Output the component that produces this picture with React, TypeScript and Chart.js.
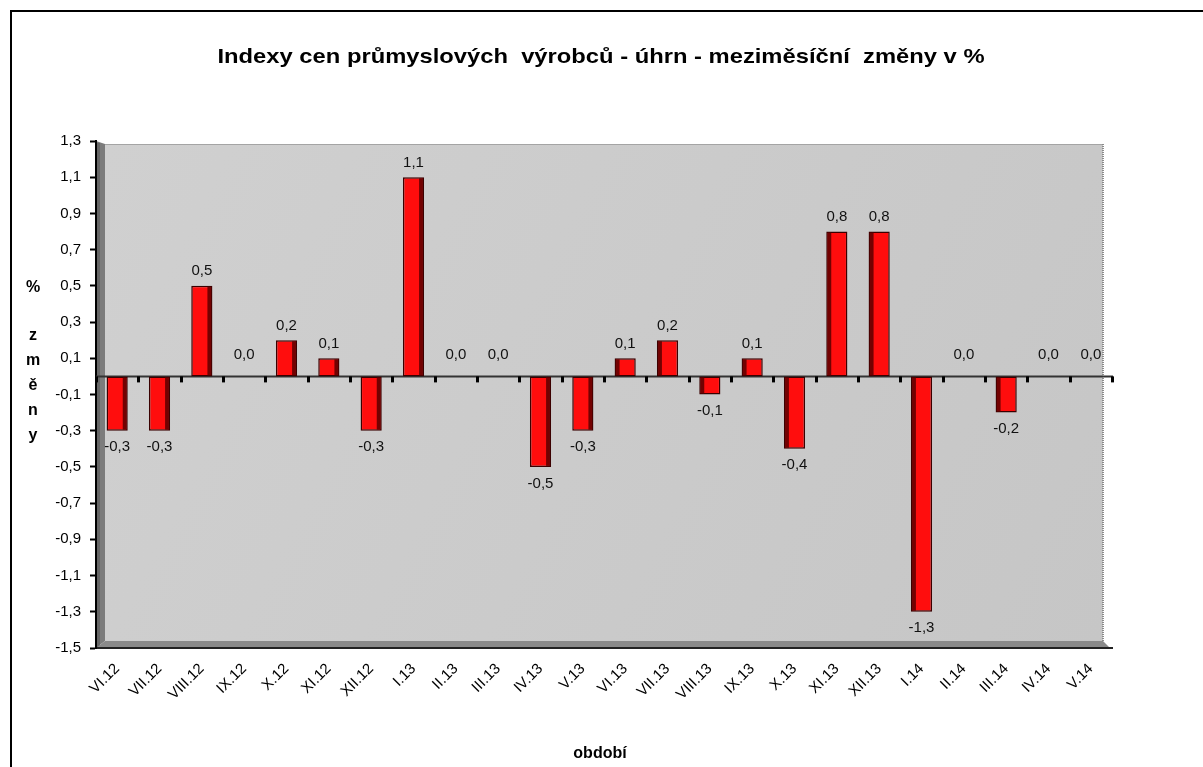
import React, { useEffect, useRef } from "react";
import { Chart, registerables } from "chart.js";

Chart.register(...registerables);

const W = 1203;
const H = 767;

const TITLE = "Indexy cen průmyslových  výrobců - úhrn - meziměsíční  změny v %";
const Y_TITLE_TOP = "%";
const Y_TITLE_LETTERS = ["z", "m", "ě", "n", "y"];
const X_TITLE = "období";

const categories = [
  "VI.12", "VII.12", "VIII.12", "IX.12", "X.12", "XI.12", "XII.12",
  "I.13", "II.13", "III.13", "IV.13", "V.13", "VI.13", "VII.13", "VIII.13",
  "IX.13", "X.13", "XI.13", "XII.13", "I.14", "II.14", "III.14", "IV.14", "V.14",
];

const values = [
  -0.3, -0.3, 0.5, 0.0, 0.2, 0.1, -0.3, 1.1, 0.0, 0.0, -0.5, -0.3,
  0.1, 0.2, -0.1, 0.1, -0.4, 0.8, 0.8, -1.3, 0.0, -0.2, 0.0, 0.0,
];

const Y_MIN = -1.5;
const Y_MAX = 1.3;
const Y_STEP = 0.2;

const FONT = '"Liberation Sans", Arial, sans-serif';
const fmt = (v: number) => v.toFixed(1).replace(".", ",");

const decorPlugin = {
  id: "decor",
  beforeDraw(chart: any) {
    const { ctx, chartArea: a } = chart;
    ctx.save();
    ctx.fillStyle = "#ffffff";
    ctx.fillRect(0, 0, W, H);
    // outer frame
    ctx.strokeStyle = "#000";
    ctx.lineWidth = 2;
    ctx.strokeRect(11, 11, W + 20, H + 20);

    // title
    ctx.font = "bold 21px " + FONT;
    const tw = ctx.measureText(TITLE).width;
    const sx = 767 / tw;
    ctx.save();
    ctx.translate(601, 57);
    ctx.scale(sx, 1);
    ctx.fillStyle = "#000";
    ctx.textAlign = "center";
    ctx.textBaseline = "middle";
    ctx.fillText(TITLE, 0, 0);
    ctx.restore();

    // y title
    ctx.font = "bold 16px " + FONT;
    ctx.fillStyle = "#000";
    ctx.textAlign = "center";
    ctx.textBaseline = "middle";
    ctx.fillText(Y_TITLE_TOP, 33, 288);
    Y_TITLE_LETTERS.forEach((l, i) => ctx.fillText(l, 33, 336 + i * 25));

    // x title
    ctx.font = "bold 16px " + FONT;
    ctx.fillText(X_TITLE, 600, 754);

    // plot walls
    const wl = a.left + 9;
    const wt = a.top + 3;
    const wr = a.right - 9;
    const wb = a.bottom - 7;
    const g = ctx.createLinearGradient(wl, wt, wr, wb);
    g.addColorStop(0, "#d0d0d0");
    g.addColorStop(1, "#c6c6c6");
    ctx.fillStyle = g;
    ctx.fillRect(wl, wt, wr - wl, wb - wt);
    // left side wall
    ctx.fillStyle = "#7c7c7c";
    ctx.beginPath();
    ctx.moveTo(a.left, a.top);
    ctx.lineTo(wl, wt);
    ctx.lineTo(wl, wb);
    ctx.lineTo(a.left, a.bottom);
    ctx.closePath();
    ctx.fill();
    ctx.fillStyle = "#666";
    ctx.fillRect(a.left, a.top + 2, 4, a.bottom - a.top - 2);
    // floor
    ctx.fillStyle = "#8a8a8a";
    ctx.beginPath();
    ctx.moveTo(a.left, a.bottom);
    ctx.lineTo(wl, wb);
    ctx.lineTo(wr, wb);
    ctx.lineTo(a.right - 2, a.bottom);
    ctx.closePath();
    ctx.fill();
    // top edge
    ctx.strokeStyle = "#a4a4a4";
    ctx.lineWidth = 1;
    ctx.beginPath();
    ctx.moveTo(wl, wt + 0.5);
    ctx.lineTo(wr, wt + 0.5);
    ctx.stroke();
    // right dotted edge
    ctx.strokeStyle = "#8a8a8a";
    ctx.setLineDash([1, 1]);
    ctx.lineWidth = 2;
    ctx.beginPath();
    ctx.moveTo(wr, wt);
    ctx.lineTo(wr, wb + 2);
    ctx.stroke();
    ctx.setLineDash([]);
    ctx.restore();
  },
  beforeDatasetsDraw(chart: any) {
    const { ctx, chartArea: a, scales } = chart;
    const y0 = scales.y.getPixelForValue(0);
    ctx.save();
    ctx.strokeStyle = "#333";
    ctx.lineWidth = 2;
    ctx.beginPath();
    ctx.moveTo(a.left, y0);
    ctx.lineTo(a.right + 1, y0);
    ctx.stroke();
    ctx.fillStyle = "#000";
    const n = categories.length;
    const cw = (a.right - a.left) / n;
    for (let i = 0; i <= n; i++) {
      const x = a.left + i * cw;
      ctx.fillRect(Math.round(x) - 1, y0, 3, 6);
    }
    ctx.restore();
  },
  afterDatasetsDraw(chart: any) {
    const { ctx, chartArea: a } = chart;
    const meta = chart.getDatasetMeta(0);
    const mid = (a.left + a.right) / 2;
    ctx.save();
    meta.data.forEach((bar: any, i: number) => {
      const v = values[i];
      const half = bar.width / 2;
      const top = Math.min(bar.y, bar.base);
      const h = Math.abs(bar.y - bar.base);
      if (h > 1) {
        ctx.fillStyle = "rgba(100,0,0,0.9)";
        if (bar.x < mid) ctx.fillRect(bar.x + half - 5, top + 1, 4, h - 2);
        else ctx.fillRect(bar.x - half + 1, top + 1, 4, h - 2);
      }
      ctx.fillStyle = "#111";
      ctx.font = "15px " + FONT;
      ctx.textAlign = "center";
      if (v > 0) {
        ctx.textBaseline = "bottom";
        ctx.fillText(fmt(v), bar.x, bar.y - 7);
      } else if (v === 0) {
        ctx.textBaseline = "bottom";
        ctx.fillText(fmt(v), bar.x, bar.y - 14);
      } else {
        ctx.textBaseline = "top";
        ctx.fillText(fmt(v), bar.x, bar.y + 9);
      }
    });
    ctx.restore();
  },
};

export default function App() {
  const ref = useRef<HTMLCanvasElement | null>(null);
  useEffect(() => {
    if (!ref.current) return;
    const chart = new Chart(ref.current, {
      type: "bar",
      data: {
        labels: categories,
        datasets: [
          {
            data: values,
            backgroundColor: "#ff0d0d",
            borderColor: "#3a0000",
            borderWidth: 1.5,
            borderSkipped: false,
            barPercentage: 0.5,
            categoryPercentage: 1,
          },
        ],
      },
      options: {
        responsive: false,
        animation: false,
        devicePixelRatio: 1,
        layout: { padding: { top: 141, right: 91, left: 0, bottom: 0 } },
        plugins: {
          legend: { display: false },
          tooltip: { enabled: false },
          title: { display: false },
        },
        scales: {
          x: {
            grid: { display: false, drawTicks: false },
            border: { display: true, color: "#222", width: 2, dash: [1, 1] },
            ticks: {
              autoSkip: false,
              minRotation: 45,
              maxRotation: 45,
              padding: 12,
              color: "#000",
              font: { family: FONT, size: 15 },
            },
            afterFit: (s: any) => {
              s.height = 119;
            },
          },
          y: {
            min: Y_MIN,
            max: Y_MAX,
            ticks: {
              stepSize: Y_STEP,
              padding: 9,
              color: "#000",
              font: { family: FONT, size: 15 },
              callback: (v: any) => fmt(Number(v)),
            },
            grid: {
              drawOnChartArea: false,
              drawTicks: true,
              tickLength: 6,
              tickWidth: 2,
              color: "#000",
            },
            border: { display: true, color: "#000", width: 2 },
            afterFit: (s: any) => {
              s.width = 96;
            },
          },
        },
      },
      plugins: [decorPlugin],
    });
    return () => chart.destroy();
  }, []);
  return (
    <div style={{ position: "absolute", left: 0, top: 0, width: W, height: H }}>
      <canvas ref={ref} width={W} height={H} style={{ width: W, height: H, display: "block" }} />
    </div>
  );
}
